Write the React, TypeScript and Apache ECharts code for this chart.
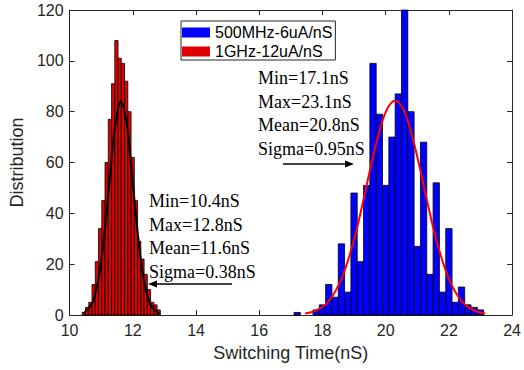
import React, { useEffect, useRef } from "react";
import * as echarts from "echarts";

const blueName = "500MHz-6uA/nS";
const redName = "1GHz-12uA/nS";

const blueBinStart = 17.1;
const blueBinWidth = 0.2;
const blueCounts = [1, 0, 0, 2, 4, 12, 7, 28, 9, 48, 21, 51, 99, 79, 51, 70, 87, 120, 80, 27, 68, 16, 52, 9, 34, 5, 11, 4, 3, 2];

const redBinStart = 10.4;
const redBinWidth = 0.103;
const redCounts = [1, 3, 5, 12, 21, 34, 45, 60, 77, 91, 108, 101, 99, 92, 80, 62, 45, 29, 22, 16, 10, 5, 4, 2];

const blueFitX = [17.45, 17.8, 18.2, 18.6, 19.0, 19.3, 19.6, 19.9, 20.1, 20.3, 20.5, 20.7, 21.0, 21.3, 21.6, 22.0, 22.4, 22.8, 23.15];
const blueFitY = [0.6, 1.8, 5.5, 14.2, 29.7, 45.5, 62.3, 76.4, 82.2, 84.3, 82.2, 76.4, 62.3, 45.5, 29.7, 14.2, 5.5, 1.8, 0.6];

const redFitX = [10.45, 10.7, 10.8, 10.9, 11.0, 11.1, 11.2, 11.3, 11.45, 11.63, 11.8, 11.9, 12.0, 12.1, 12.2, 12.3, 12.4, 12.5, 12.6, 12.85];
const redFitY = [0.7, 4.2, 7.7, 13.3, 21.3, 31.7, 44.3, 57.6, 75.1, 84, 76, 65.3, 52.3, 39.1, 27.3, 17.8, 10.8, 6.1, 3.2, 0.5];

const rightStats = ["Min=17.1nS", "Max=23.1nS", "Mean=20.8nS", "Sigma=0.95nS"];
const leftStats = ["Min=10.4nS", "Max=12.8nS", "Mean=11.6nS", "Sigma=0.38nS"];

const AX = "#262626";

function bins(start: number, width: number, counts: number[]) {
  return counts.map((c, i) => [start + i * width, start + (i + 1) * width, c]);
}

function barRender(fill: string) {
  return (params: any, api: any) => {
    const p0 = api.coord([api.value(0), api.value(2)]);
    const p1 = api.coord([api.value(1), 0]);
    const cs = params.coordSys;
    const rect = echarts.graphic.clipRectByRect(
      { x: p0[0], y: p0[1], width: p1[0] - p0[0], height: p1[1] - p0[1] },
      { x: cs.x, y: cs.y, width: cs.width, height: cs.height }
    );
    if (!rect || rect.height <= 0) return null;
    return { type: "rect", shape: rect, style: { fill, stroke: "#000", lineWidth: 0.8 } };
  };
}

function statTexts(lines: string[], x: number, y0: number, dy: number) {
  return lines.map((t, i) => ({
    type: "text",
    x,
    y: y0 + i * dy,
    z: 100,
    style: { text: t, fill: "#000", font: '18px "Liberation Serif"', verticalAlign: "middle", align: "left" },
  }));
}

export default function App() {
  const ref = useRef<HTMLDivElement>(null);
  useEffect(() => {
    if (!ref.current) return;
    const chart = echarts.init(ref.current, undefined, { renderer: "svg" });
    const axisCommon = {
      type: "value",
      axisLine: { show: true, onZero: false, lineStyle: { color: AX, width: 1 } },
      axisTick: { show: true, inside: true, length: 5, lineStyle: { color: AX, width: 1 } },
      splitLine: { show: false },
    };
    chart.setOption({
      animation: false,
      backgroundColor: "#fff",
      grid: { left: 67, right: 9, top: 10, bottom: 55, containLabel: false },
      legend: {
        left: 181,
        top: 21,
        orient: "vertical",
        padding: [3, 3, 0, 1],
        itemGap: 2,
        itemWidth: 28,
        itemHeight: 10,
        borderColor: AX,
        borderWidth: 1,
        backgroundColor: "#fff",
        textStyle: { fontSize: 16, fontFamily: "Liberation Sans", color: "#000", lineHeight: 17 },
        data: [
          { name: blueName, icon: "rect", itemStyle: { color: "#0000ff", borderWidth: 0 } },
          { name: redName, icon: "rect", itemStyle: { color: "#e00000", borderWidth: 0 } },
        ],
      },
      xAxis: [
        {
          ...axisCommon,
          min: 10,
          max: 24,
          interval: 2,
          position: "bottom",
          axisLabel: { color: AX, fontSize: 16, fontFamily: "Liberation Sans", margin: 7 },
          name: "Switching Time(nS)",
          nameLocation: "middle",
          nameGap: 29,
          nameTextStyle: { color: AX, fontSize: 18, fontFamily: "Liberation Sans" },
        },
        { ...axisCommon, min: 10, max: 24, interval: 2, position: "top", axisLabel: { show: false } },
      ],
      yAxis: [
        {
          ...axisCommon,
          min: 0,
          max: 120,
          interval: 20,
          position: "left",
          axisLabel: { color: AX, fontSize: 16, fontFamily: "Liberation Sans", margin: 6 },
          name: "Distribution",
          nameLocation: "middle",
          nameGap: 37,
          nameTextStyle: { color: AX, fontSize: 18, fontFamily: "Liberation Sans" },
        },
        { ...axisCommon, min: 0, max: 120, interval: 20, position: "right", axisLabel: { show: false } },
      ],
      series: [
        {
          name: blueName,
          type: "custom",
          xAxisIndex: 0,
          yAxisIndex: 0,
          itemStyle: { color: "#0000ff" },
          renderItem: barRender("#0000ff"),
          encode: { x: [0, 1], y: 2 },
          data: bins(blueBinStart, blueBinWidth, blueCounts),
          z: 2,
        },
        {
          name: "blueFit",
          type: "line",
          smooth: 0.4,
          symbol: "none",
          lineStyle: { color: "#ff0000", width: 2 },
          data: blueFitX.map((x, i) => [x, blueFitY[i]]),
          z: 3,
        },
        {
          name: redName,
          type: "custom",
          xAxisIndex: 0,
          yAxisIndex: 0,
          itemStyle: { color: "#e00000" },
          renderItem: barRender("#e00000"),
          encode: { x: [0, 1], y: 2 },
          data: bins(redBinStart, redBinWidth, redCounts),
          z: 2,
        },
        {
          name: "redFit",
          type: "line",
          smooth: 0.4,
          symbol: "none",
          lineStyle: { color: "#000", width: 2 },
          data: redFitX.map((x, i) => [x, redFitY[i]]),
          z: 3,
        },
      ],
      graphic: [
        ...statTexts(rightStats, 258, 78, 23.7),
        ...statTexts(leftStats, 149, 201, 23.7),
        { type: "line", z: 100, shape: { x1: 283, y1: 164, x2: 346, y2: 164 }, style: { stroke: "#000", lineWidth: 1.3 } },
        { type: "polygon", z: 100, shape: { points: [[354, 164], [345, 160.5], [345, 167.5]] }, style: { fill: "#000" } },
        { type: "line", z: 100, shape: { x1: 156, y1: 284, x2: 232, y2: 284 }, style: { stroke: "#000", lineWidth: 1.3 } },
        { type: "polygon", z: 100, shape: { points: [[148, 284], [157, 280.5], [157, 287.5]] }, style: { fill: "#000" } },
      ],
    });
    return () => chart.dispose();
  }, []);
  return <div ref={ref} style={{ position: "fixed", left: 0, top: 0, width: 524, height: 370 }} />;
}
